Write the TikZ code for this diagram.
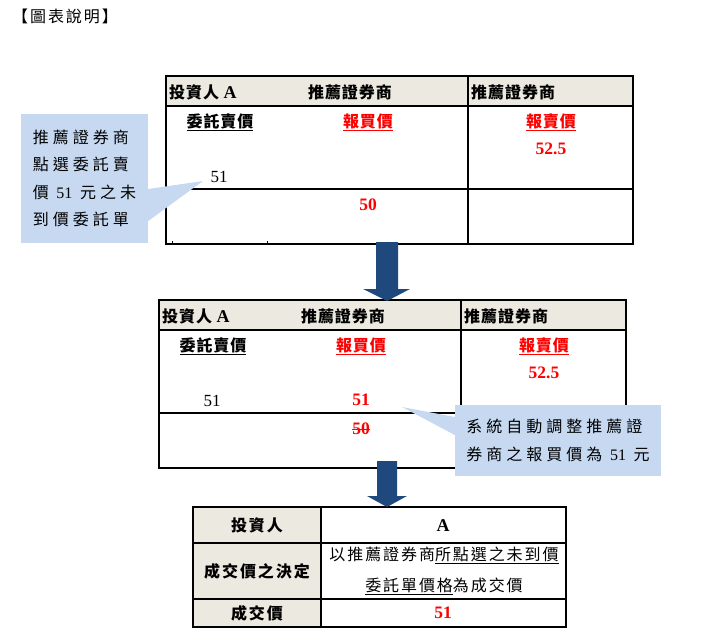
\documentclass[tikz,border=0pt]{standalone}
\usepackage{fontspec}
\setmainfont{Liberation Serif}
\newfontfamily\cjk{Noto Sans CJK TC}[LetterSpace=12]
\newfontfamily\cjkhead{Noto Sans CJK TC}[LetterSpace=6]
\newfontfamily\cjknote{Noto Sans CJK TC}[LetterSpace=25]
\newfontfamily\cjkcell{Noto Sans CJK TC}[LetterSpace=12]
\usetikzlibrary{positioning, calc}

\definecolor{headbg}{RGB}{236,233,224}
\definecolor{notebg}{RGB}{198,217,241}
\definecolor{arrowblue}{RGB}{31,73,125}

\begin{document}
\begin{tikzpicture}[
    x=1pt, y=-1pt,
    txt/.style={inner sep=0pt, font=\fontsize{17}{19}\selectfont},
    hdr/.style={inner sep=0pt, font=\fontsize{16}{19}\selectfont\cjkhead\bfseries},
    price/.style={inner sep=0pt, text=red, font=\fontsize{17.5}{19}\selectfont\bfseries},
    cell/.style={inner sep=0pt, font=\fontsize{16}{19}\selectfont\cjkcell},
    notebox/.style={fill=notebg, inner sep=0pt, align=left,
                    font=\fontsize{16}{27.5}\selectfont\cjknote},
    grid/.style={line width=1.2pt},
    bigarrow/.style={fill=arrowblue}
  ]
  \useasboundingbox (0,0) rectangle (710,642);

  % Title
  \node[inner sep=0pt, anchor=west, font=\fontsize{16}{19}\selectfont\cjk] (title) at (12,16) {【圖表說明】};

  % Tables 1 and 2 (same layout)
  \foreach \t/\dx/\dy in {1/0/0, 2/-7/224} {
    \begin{scope}[shift={(\dx,\dy)}]
      \fill[headbg] (166,76) rectangle (633,106);
      \draw[grid] (166,76) rectangle (633,244);
      \draw[grid] (166,106) -- (633,106) (166,189) -- (633,189)
                  (468,76) -- (468,244);
      \node[hdr, anchor=west] (inv\t) at (169,92) {投資人 {\rmfamily\fontsize{18}{19}\selectfont A}};
      \node[hdr] (brk\t) at (350,92) {推薦證券商};
      \node[hdr, anchor=west] (brkr\t) at (471,92) {推薦證券商};
      \node[hdr] (sell\t) at (220,122) {\underline{委託賣價}};
      \node[hdr, text=red] (bid\t) at (368,122) {\underline{報買價}};
      \node[hdr, text=red] (ask\t) at (551,122) {\underline{報賣價}};
      \node[price] (askv\t) at (551,149) {52.5};
      \node[txt] (sellv\t) at (219,177) {51};
    \end{scope}
  }
  \draw (172,241) -- (172,244) (267,241) -- (267,244);
  \node[price] (bidv1) at (368,205) {50};
  \node[price] (bidv2) at (361,400) {51};
  \node[price] (bidold2) at (361,429) {50};
  \draw[red, line width=1pt] (bidold2.west) -- (bidold2.east);

  % Table 3
  \fill[headbg] (193,507) rectangle (321,627);
  \draw[grid] (193,507) rectangle (566,627);
  \draw[grid] (193,543) -- (566,543) (193,599) -- (566,599)
              (321,507) -- (321,627);
  \node[cell, font=\fontsize{16}{19}\selectfont\cjkcell\bfseries] (who) at (257,525) {投資人};
  \node[price, text=black, font=\fontsize{18}{19}\selectfont\bfseries] (whov) at (443,526) {A};
  \node[cell, font=\fontsize{16}{19}\selectfont\cjkcell\bfseries] (rule) at (257,571) {成交價之決定};
  \node[cell, align=center, font=\fontsize{16}{31}\selectfont\cjkcell] (rulev) at (444,571)
    {以推薦證券商\underline{所點選之未到價}\\\underline{委託單價格}為成交價};
  \node[cell, font=\fontsize{16}{19}\selectfont\cjkcell\bfseries] (deal) at (257,613) {成交價};
  \node[price] (dealv) at (443,613) {51};

  % Callouts
  \coordinate (tip1) at (203,181);
  \coordinate (tip2) at (402,407);
  \node[notebox, minimum width=127, minimum height=129] (note1) at (84.5,178.5)
    {推薦證券商\\點選委託賣\\價 {\rmfamily 51} 元之未\\到價委託單};
  \node[notebox, minimum width=206, minimum height=71] (note2) at (558,440.5)
    {系統自動調整推薦證\\券商之報買價為 {\rmfamily 51} 元};
  \fill[notebg] ([yshift=-10.5pt]note1.east) -- (tip1) -- ([yshift=-42.5pt]note1.east) -- cycle;
  \fill[notebg] ([yshift=23.5pt]note2.west) -- (tip2) -- ([yshift=5.5pt]note2.west) -- cycle;

  % Arrows
  \fill[bigarrow] (376,242) -- (398,242) -- (398,289) -- (410,289) -- (387,301)
                  -- (363,289) -- (376,289) -- cycle;
  \fill[bigarrow] (377,461) -- (397,461) -- (397,496) -- (407,496) -- (387,507)
                  -- (367,496) -- (377,496) -- cycle;
\end{tikzpicture}
\end{document}
